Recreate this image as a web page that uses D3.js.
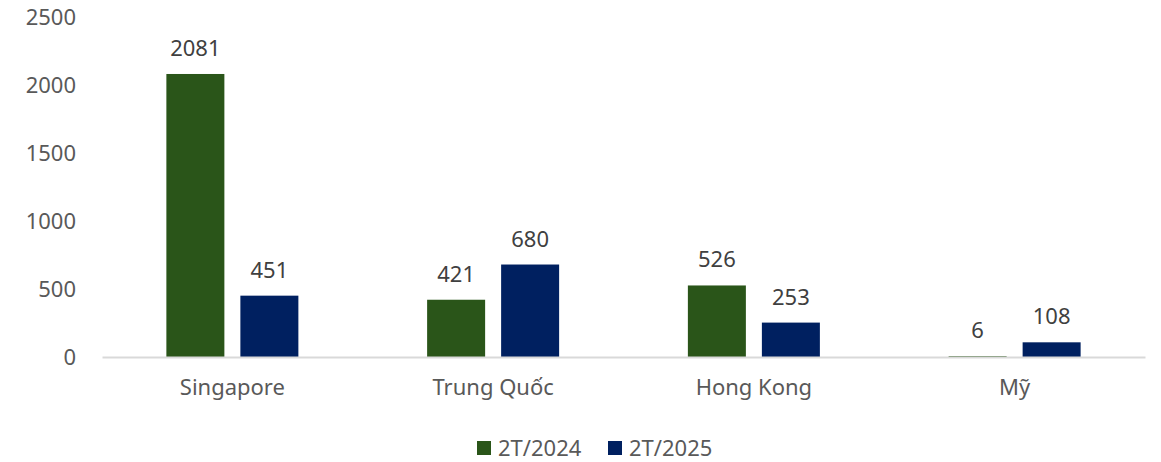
<!DOCTYPE html>
<html>
<head>
<meta charset="utf-8">
<script src="https://cdn.jsdelivr.net/npm/d3@7"></script>
<style>
  html, body { margin: 0; padding: 0; background: #fff; }
  svg { display: block; font-family: "Noto Sans", "Open Sans", sans-serif; }
</style>
</head>
<body>
<svg id="chart" width="1161" height="462"></svg>
<script>
// Categories, series and ticks
const categories = ["Singapore", "Trung Quốc", "Hong Kong", "Mỹ"];
const seriesNames = ["2T/2024", "2T/2025"];
const values2024 = [2081, 421, 526, 6];
const values2025 = [451, 680, 253, 108];
const yTicks = [0, 500, 1000, 1500, 2000, 2500];
const colors = ["#2a5519", "#002060"];

const svg = d3.select("#chart");
const margin = { left: 102, right: 16, top: 17, bottom: 105 };
const W = 1161, H = 462;
const textColor = "#595959";
const fontSize = "22px";

const x = d3.scaleBand()
  .domain(categories)
  .range([margin.left, W - margin.right])
  .paddingInner(0).paddingOuter(0);

// the pair of bars sits in the middle of each category band
const pairHalf = 66;
const x1 = d3.scaleBand()
  .domain(seriesNames)
  .range([x.bandwidth() / 2 - pairHalf, x.bandwidth() / 2 + pairHalf])
  .paddingInner(0.2162)
  .paddingOuter(0);

const y = d3.scaleLinear()
  .domain([0, 2500])
  .range([H - margin.bottom, margin.top]);

// y-axis labels (no axis line, no gridlines)
const yAxis = svg.append("g")
  .attr("transform", `translate(${margin.left - 26},0)`)
  .call(d3.axisLeft(y).tickValues(yTicks).tickSize(0).tickPadding(0).tickFormat(d3.format("d")));
yAxis.select(".domain").remove();
yAxis.selectAll("text")
  .attr("fill", textColor)
  .style("font-size", fontSize)
  .style("font-family", "'Noto Sans', sans-serif");

// bars
const data = categories.map((c, i) => ({ cat: c, vals: [values2024[i], values2025[i]] }));
const groups = svg.append("g").selectAll("g")
  .data(data).join("g")
  .attr("transform", d => `translate(${x(d.cat)},0)`);

groups.selectAll("rect")
  .data(d => d.vals.map((v, j) => ({ key: seriesNames[j], v, j })))
  .join("rect")
  .attr("x", d => x1(d.key))
  .attr("width", x1.bandwidth())
  .attr("y", d => y(d.v))
  .attr("height", d => y(0) - y(d.v))
  .attr("fill", d => colors[d.j]);

groups.selectAll("text.val")
  .data(d => d.vals.map((v, j) => ({ key: seriesNames[j], v, j })))
  .join("text")
  .attr("class", "val")
  .attr("x", d => x1(d.key) + x1.bandwidth() / 2)
  .attr("y", d => y(d.v) - 18)
  .attr("text-anchor", "middle")
  .attr("fill", "#404040")
  .style("font-size", fontSize)
  .text(d => d.v);

// x axis baseline
const xAxis = svg.append("g")
  .attr("transform", `translate(0,${y(0)})`)
  .call(d3.axisBottom(x).tickSize(0).tickPadding(22));
xAxis.select(".domain").attr("stroke", "#d9d9d9").attr("stroke-width", 2);
xAxis.selectAll("text")
  .attr("fill", textColor)
  .style("font-size", fontSize)
  .style("font-family", "'Noto Sans', sans-serif");

// legend
const legend = svg.append("g").attr("transform", "translate(0,448)");
const legendX = [477, 608];
seriesNames.forEach((name, i) => {
  const g = legend.append("g").attr("transform", `translate(${legendX[i]},0)`);
  g.append("rect").attr("x", 0).attr("y", -7).attr("width", 14).attr("height", 14).attr("fill", colors[i]);
  g.append("text").attr("x", 21).attr("y", 0).attr("dy", "0.35em")
    .attr("fill", textColor).style("font-size", fontSize).text(name);
});
</script>
</body>
</html>
